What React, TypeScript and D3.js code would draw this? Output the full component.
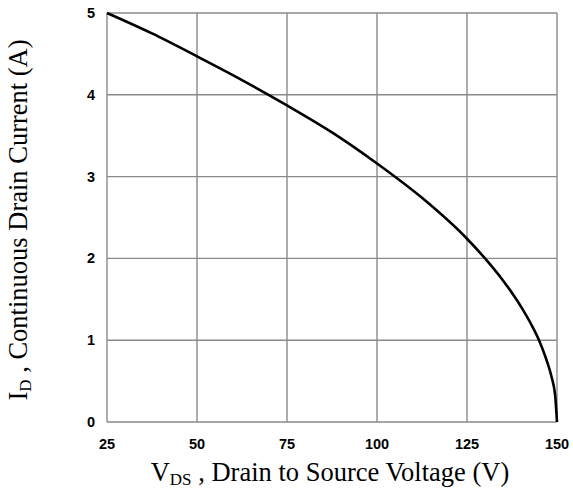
import React from "react";
import * as d3 from "d3";

// V_DS (V) against I_D (A)
const vds = [25, 37.5, 50, 62.5, 75, 87.5, 100, 112.5, 125, 130, 135, 140, 143, 145, 147, 148.5, 149.5, 150];
const id = [5, 4.75, 4.47, 4.18, 3.87, 3.54, 3.16, 2.74, 2.24, 2.0, 1.73, 1.41, 1.18, 1.0, 0.77, 0.55, 0.32, 0];

const xTicks = [25, 50, 75, 100, 125, 150];
const yTicks = [0, 1, 2, 3, 4, 5];

const width = 573;
const height = 488;
const margin = { top: 13, right: 16, bottom: 66, left: 107 };

export default function App() {
  const x = d3
    .scaleLinear()
    .domain([25, 150])
    .range([margin.left, width - margin.right]);
  const y = d3
    .scaleLinear()
    .domain([0, 5])
    .range([height - margin.bottom, margin.top]);

  const pts: [number, number][] = vds.map((v, i) => [v, id[i]]);
  const line = d3
    .line<[number, number]>()
    .x((d) => x(d[0]))
    .y((d) => y(d[1]))
    .curve(d3.curveMonotoneX);

  const gridColor = "#8a8a8a";
  const tickFont = "'Liberation Sans', Arial, sans-serif";
  const titleFont = "'Liberation Serif', 'Times New Roman', serif";

  return (
    <svg
      width={width}
      height={height}
      style={{ position: "absolute", left: 0, top: 0, background: "#fff" }}
    >
      {/* grid */}
      {xTicks.map((t) => (
        <line
          key={"gx" + t}
          x1={x(t)}
          x2={x(t)}
          y1={y(0)}
          y2={y(5)}
          stroke={gridColor}
          strokeWidth={1.4}
        />
      ))}
      {yTicks.map((t) => (
        <line
          key={"gy" + t}
          x1={x(25)}
          x2={x(150)}
          y1={y(t)}
          y2={y(t)}
          stroke={gridColor}
          strokeWidth={1.4}
        />
      ))}

      {/* curve */}
      <path d={line(pts) || ""} fill="none" stroke="#000" strokeWidth={2.6} />

      {/* tick labels */}
      {xTicks.map((t) => (
        <text
          key={"tx" + t}
          x={x(t)}
          y={y(0) + 26.5}
          textAnchor="middle"
          fontFamily={tickFont}
          fontWeight="bold"
          fontSize={14.5}
        >
          {t}
        </text>
      ))}
      {yTicks.map((t) => (
        <text
          key={"ty" + t}
          x={x(25) - 12}
          y={y(t) + 5}
          textAnchor="end"
          fontFamily={tickFont}
          fontWeight="bold"
          fontSize={14.5}
        >
          {t}
        </text>
      ))}

      {/* axis titles */}
      <text
        x={330}
        y={481}
        textAnchor="middle"
        fontFamily={titleFont}
        fontSize={26.5}
      >
        V<tspan fontSize={17} dy={4}>DS</tspan>
        <tspan dy={-4}> , Drain to Source Voltage (V)</tspan>
      </text>
      <text
        transform="translate(27,220) rotate(-90)"
        textAnchor="middle"
        fontFamily={titleFont}
        fontSize={26.5}
      >
        I<tspan fontSize={17} dy={4}>D</tspan>
        <tspan dy={-4}> , Continuous Drain Current (A)</tspan>
      </text>
    </svg>
  );
}
